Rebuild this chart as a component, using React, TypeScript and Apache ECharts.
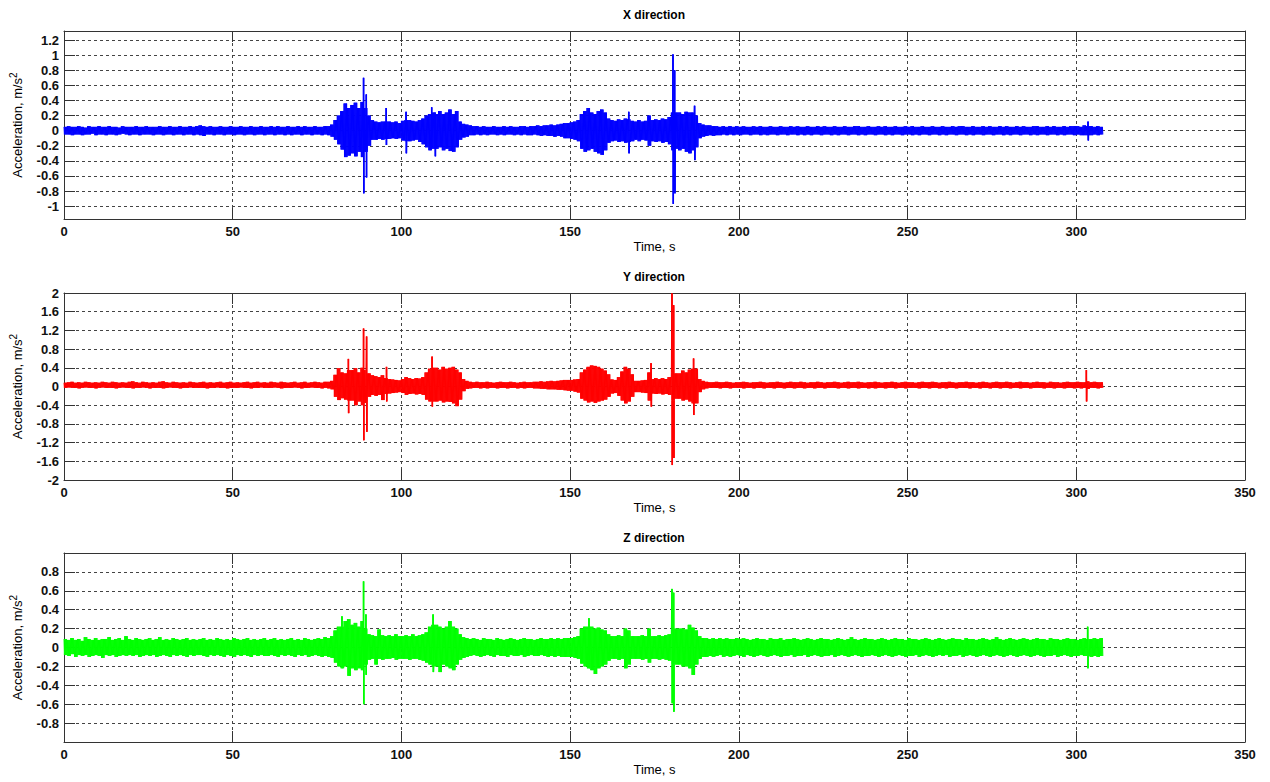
import React, { useEffect, useRef } from "react";
import * as echarts from "echarts";

// ---- DATA ----
// burst envelope of each record, one bin per second, in 0.01 m/s^2,
// plus the isolated narrow spikes (time s, upper and lower peak in m/s^2)
const BIN_SECONDS = 1;
const STROKES_PER_BIN = 4;
const STROKES_PER_SPIKE = 2;
const X_TICKS = [0, 50, 100, 150, 200, 250, 300, 350];
const X_LABELS_FIRST = [0, 50, 100, 150, 200, 250, 300];
const X_LABELS_OTHER = [0, 50, 100, 150, 200, 250, 300, 350];
const Y1_TICKS = [-1, -0.8, -0.6, -0.4, -0.2, 0, 0.2, 0.4, 0.6, 0.8, 1, 1.2];
const Y2_TICKS = [-2, -1.6, -1.2, -0.8, -0.4, 0, 0.4, 0.8, 1.2, 1.6, 2];
const Y3_TICKS = [-0.8, -0.6, -0.4, -0.2, 0, 0.2, 0.4, 0.6, 0.8];
const Y1_RANGE = [-1.17, 1.32];
const Y2_RANGE = [-2, 2];
const Y3_RANGE = [-1, 1];
const PANEL_TITLES = ["X direction", "Y direction", "Z direction"];

const X_UP = [
  5,6,5,5,6,5,4,6,5,5,6,5,5,6,5,5,4,6,5,5,
  5,6,5,5,6,5,5,5,6,5,5,6,5,5,6,5,5,6,5,6,
  7,6,5,6,5,5,6,5,5,6,5,5,6,5,5,6,5,5,6,5,
  5,6,5,6,5,5,6,5,5,6,5,6,5,5,6,5,5,6,6,8,
  14,20,26,36,30,34,37,30,38,30,20,14,12,11,12,12,12,11,12,10,
  13,14,14,13,12,14,16,20,22,24,22,26,22,24,28,22,26,12,9,8,
  7,6,6,5,6,5,5,6,5,5,6,5,6,5,5,6,6,5,6,6,
  7,6,7,7,8,7,8,9,10,10,11,12,14,22,26,30,24,22,26,28,
  24,16,14,13,15,14,16,15,13,12,14,12,13,20,14,15,14,16,15,18,
  24,24,24,22,25,24,24,20,10,8,7,7,6,6,5,6,5,6,5,6,
  5,6,5,5,6,5,6,5,5,6,5,5,6,5,5,6,5,6,5,5,
  6,5,5,6,5,6,5,5,6,5,5,6,5,5,6,6,5,5,6,5,
  5,6,5,6,5,5,6,5,5,6,5,6,5,5,6,5,5,6,5,5,
  6,5,5,6,5,6,6,5,5,6,5,5,6,5,6,5,5,6,5,6,
  5,5,6,5,6,5,5,6,6,5,5,6,5,6,5,5,6,5,6,6,
  6,5,7,6,6,5,6,5,
];
const X_LO = [
  -5,-5,-6,-5,-5,-6,-5,-5,-4,-6,-5,-5,-6,-5,-5,-6,-5,-4,-5,-6,
  -5,-5,-6,-5,-5,-5,-6,-5,-5,-6,-5,-5,-6,-5,-5,-6,-5,-5,-6,-5,
  -6,-7,-5,-5,-6,-5,-5,-6,-5,-5,-6,-5,-5,-6,-5,-5,-6,-5,-5,-6,
  -5,-5,-6,-5,-5,-6,-5,-6,-5,-5,-6,-5,-5,-6,-5,-5,-6,-5,-6,-8,
  -12,-18,-25,-35,-33,-30,-34,-28,-35,-28,-20,-12,-12,-11,-12,-11,-11,-10,-11,-10,
  -13,-14,-14,-13,-12,-15,-18,-22,-26,-24,-24,-22,-26,-24,-27,-28,-22,-12,-9,-8,
  -6,-6,-5,-6,-5,-6,-5,-5,-6,-5,-6,-5,-5,-6,-5,-6,-5,-6,-6,-5,
  -6,-7,-6,-7,-7,-8,-7,-8,-10,-10,-11,-12,-14,-24,-28,-26,-24,-28,-30,-32,
  -26,-16,-14,-13,-15,-14,-16,-15,-14,-12,-14,-12,-13,-20,-14,-15,-14,-16,-15,-18,
  -26,-24,-26,-24,-28,-30,-26,-22,-10,-8,-7,-6,-7,-6,-6,-5,-6,-5,-6,-5,
  -6,-5,-5,-6,-5,-5,-6,-5,-6,-5,-5,-6,-5,-5,-6,-5,-5,-6,-5,-6,
  -5,-6,-5,-5,-6,-5,-5,-6,-5,-6,-5,-5,-6,-5,-5,-6,-5,-6,-5,-5,
  -6,-5,-5,-6,-5,-6,-5,-5,-6,-5,-5,-6,-5,-6,-5,-5,-6,-5,-5,-6,
  -5,-6,-5,-5,-6,-5,-5,-6,-5,-6,-5,-5,-6,-5,-5,-6,-5,-5,-6,-5,
  -6,-5,-5,-6,-5,-5,-6,-5,-6,-5,-5,-6,-5,-5,-6,-5,-6,-5,-5,-6,
  -5,-6,-6,-6,-6,-5,-6,-5,
];
const X_SPIKE_T = [88.7, 89.5, 95.4, 101.3, 108.9, 109.9, 167.3, 180.4, 180.9, 186.8, 303.4];
const X_SPIKE_UP = [0.70, 0.48, 0.30, 0.25, 0.31, 0.24, 0.25, 1.01, 0.80, 0.33, 0.12];
const X_SPIKE_LO = [-0.83, -0.62, -0.19, -0.30, -0.22, -0.34, -0.30, -0.97, -0.83, -0.39, -0.13];

const Y_UP = [
  8,9,10,8,9,8,10,9,8,9,8,10,9,8,10,9,8,9,8,10,
  11,9,8,10,9,8,9,8,10,11,9,8,10,9,8,9,8,10,9,8,
  9,10,8,9,8,9,10,8,9,10,8,9,8,9,10,8,9,10,8,9,
  8,10,9,8,10,9,8,9,10,8,9,10,8,9,10,9,8,10,10,12,
  25,39,30,28,35,35,39,30,40,35,28,24,22,20,24,18,16,15,14,13,
  16,20,18,16,18,17,20,30,38,40,40,36,42,38,40,42,36,30,16,12,
  10,9,10,9,9,10,9,8,9,10,9,9,10,9,8,9,10,9,9,10,
  10,11,10,11,12,11,12,13,14,14,14,15,16,30,36,42,45,44,42,38,
  34,26,15,14,20,32,42,38,26,12,12,13,14,30,16,18,16,18,16,20,
  30,28,28,34,30,36,38,38,16,12,10,9,9,10,9,9,10,9,8,9,
  9,10,9,8,9,9,10,9,8,9,9,10,9,8,9,10,9,9,10,9,
  8,9,9,10,9,8,9,9,10,9,8,9,10,9,9,10,9,8,9,9,
  10,9,8,9,9,10,9,8,9,10,9,9,8,9,10,9,9,10,9,8,
  9,9,10,9,8,9,9,10,9,9,8,9,10,9,8,9,10,9,9,10,
  9,8,9,10,9,9,8,9,10,9,9,8,10,9,9,8,9,10,9,9,
  10,9,9,11,9,10,9,9,
];
const Y_LO = [
  -3,-2,-3,-3,-4,-3,-2,-3,-3,-4,-3,-2,-3,-3,-3,-4,-3,-2,-3,-3,
  -4,-3,-3,-2,-3,-4,-3,-3,-3,-4,-3,-2,-3,-3,-4,-3,-3,-2,-3,-3,
  -3,-3,-4,-3,-3,-2,-3,-3,-4,-3,-3,-3,-2,-3,-3,-4,-3,-3,-2,-3,
  -3,-3,-2,-3,-4,-3,-3,-3,-2,-3,-4,-3,-3,-2,-3,-3,-4,-3,-4,-6,
  -22,-29,-25,-28,-30,-30,-40,-32,-40,-35,-22,-18,-20,-18,-29,-16,-15,-14,-13,-12,
  -14,-18,-16,-15,-17,-16,-18,-28,-32,-32,-32,-30,-34,-32,-33,-36,-42,-28,-10,-5,
  -4,-3,-3,-4,-3,-4,-3,-3,-4,-3,-3,-4,-3,-3,-4,-3,-4,-3,-3,-4,
  -4,-5,-5,-6,-6,-6,-7,-7,-8,-9,-9,-11,-13,-26,-30,-34,-32,-35,-32,-30,
  -28,-22,-15,-14,-20,-30,-36,-32,-22,-12,-12,-13,-14,-30,-15,-16,-15,-17,-16,-18,
  -30,-26,-26,-30,-28,-32,-36,-36,-12,-6,-4,-3,-3,-3,-4,-3,-3,-4,-3,-3,
  -3,-4,-3,-3,-4,-3,-3,-4,-3,-3,-4,-3,-3,-4,-3,-3,-4,-3,-3,-4,
  -3,-3,-4,-3,-3,-4,-3,-3,-3,-4,-3,-3,-4,-3,-3,-4,-3,-3,-4,-3,
  -4,-3,-3,-4,-3,-3,-4,-3,-3,-4,-3,-3,-3,-4,-3,-3,-4,-3,-3,-4,
  -3,-4,-3,-3,-4,-3,-3,-3,-4,-3,-3,-4,-3,-3,-4,-3,-3,-4,-3,-3,
  -4,-3,-3,-4,-3,-3,-4,-3,-3,-3,-4,-3,-3,-4,-3,-3,-4,-3,-3,-4,
  -3,-4,-3,-5,-3,-3,-4,-3,
];
const Y_SPIKE_T = [84.2, 88.7, 89.6, 95.5, 109.0, 173.9, 180.1, 180.6, 186.5, 302.9];
const Y_SPIKE_UP = [0.59, 1.24, 1.07, 0.42, 0.64, 0.50, 1.99, 1.74, 0.60, 0.35];
const Y_SPIKE_LO = [-0.57, -1.15, -0.97, -0.32, -0.43, -0.43, -1.68, -1.53, -0.61, -0.32];

const Z_UP = [
  9,8,10,8,9,7,11,9,8,10,8,9,9,11,8,9,10,8,12,9,
  8,10,9,8,9,10,8,9,11,8,9,8,10,9,8,9,10,8,9,8,
  9,10,8,9,8,10,9,8,9,8,10,9,8,9,10,8,9,8,9,10,
  8,9,10,8,9,8,9,10,8,9,8,10,9,8,9,10,9,11,10,12,
  18,22,22,28,30,24,26,22,28,20,14,13,12,19,13,12,13,12,14,12,
  12,13,12,14,12,13,14,16,22,24,24,22,20,22,28,22,20,14,11,10,
  9,10,9,8,10,9,9,8,10,9,8,9,10,9,8,9,10,9,9,8,
  9,10,9,9,10,9,10,9,10,10,10,11,12,20,22,22,22,20,21,19,
  18,14,12,12,13,12,20,18,12,12,12,13,12,20,12,12,13,12,13,14,
  20,20,20,20,19,24,21,18,12,10,10,9,10,9,10,9,10,9,9,10,
  9,10,9,8,9,10,9,9,8,10,9,9,10,8,9,9,10,9,8,9,
  10,9,8,9,10,9,9,8,9,10,9,8,9,11,9,8,9,10,9,9,
  8,9,10,9,8,9,10,9,9,8,10,9,9,8,9,10,9,8,9,10,
  9,8,9,10,9,9,8,10,9,9,8,9,10,9,8,9,11,9,8,9,
  10,9,8,9,10,9,8,9,10,9,9,8,10,9,9,8,9,10,9,9,
  8,9,10,9,9,10,9,10,
];
const Z_LO = [
  -8,-9,-7,-10,-8,-9,-8,-10,-9,-8,-9,-11,-8,-9,-8,-10,-9,-8,-9,-8,
  -9,-8,-10,-9,-8,-9,-8,-10,-9,-8,-9,-10,-8,-9,-8,-9,-10,-8,-9,-8,
  -8,-9,-10,-8,-9,-8,-9,-10,-8,-9,-10,-8,-9,-8,-9,-10,-8,-9,-8,-9,
  -9,-8,-9,-10,-8,-9,-8,-9,-10,-8,-9,-8,-10,-9,-8,-9,-10,-9,-10,-11,
  -16,-20,-22,-20,-30,-22,-24,-22,-24,-18,-13,-12,-18,-12,-13,-12,-12,-11,-13,-12,
  -12,-12,-13,-12,-12,-13,-14,-16,-18,-20,-20,-26,-18,-20,-22,-24,-18,-13,-11,-10,
  -9,-8,-9,-10,-9,-8,-9,-10,-8,-9,-9,-10,-8,-9,-9,-8,-10,-9,-8,-9,
  -9,-8,-9,-10,-9,-10,-9,-10,-10,-10,-10,-11,-12,-17,-20,-22,-24,-28,-22,-20,
  -18,-14,-12,-12,-13,-12,-22,-18,-12,-12,-12,-13,-12,-16,-12,-12,-13,-12,-13,-14,
  -18,-18,-18,-20,-20,-22,-29,-18,-12,-10,-10,-9,-10,-9,-8,-10,-9,-10,-9,-8,
  -9,-10,-8,-9,-10,-9,-8,-9,-10,-9,-8,-9,-10,-9,-9,-8,-10,-9,-9,-8,
  -10,-9,-8,-9,-10,-9,-9,-8,-10,-9,-8,-9,-10,-9,-8,-9,-10,-9,-9,-8,
  -9,-10,-9,-8,-9,-10,-9,-8,-9,-10,-9,-9,-8,-10,-9,-8,-9,-10,-9,-8,
  -9,-8,-10,-9,-9,-8,-10,-9,-8,-9,-10,-9,-8,-9,-10,-9,-8,-9,-10,-9,
  -8,-9,-10,-9,-8,-9,-10,-9,-8,-9,-10,-9,-9,-8,-10,-9,-8,-9,-10,-9,
  -9,-8,-9,-9,-10,-9,-10,-9,
];
const Z_SPIKE_T = [82.3, 88.7, 89.4, 109.3, 155.5, 180.1, 180.6, 303.3];
const Z_SPIKE_UP = [0.33, 0.70, 0.35, 0.35, 0.31, 0.62, 0.58, 0.22];
const Z_SPIKE_LO = [-0.22, -0.60, -0.29, -0.26, -0.22, -0.59, -0.68, -0.22];

// each bin: a few strokes swinging between its read upper and lower peaks; spikes: two narrow strokes
function buildTrace(up: number[], lo: number[], st: number[], su: number[], sl: number[]): number[][] {
  const out: number[][] = [];
  const step = BIN_SECONDS / (2 * STROKES_PER_BIN);
  for (let i = 0; i < up.length; i++) {
    for (let s = 0; s < STROKES_PER_BIN; s++) {
      out.push([i * BIN_SECONDS + 2 * s * step, up[i] / 100]);
      out.push([i * BIN_SECONDS + (2 * s + 1) * step, lo[i] / 100]);
    }
  }
  for (let j = 0; j < st.length; j++) {
    for (let s = 0; s < STROKES_PER_SPIKE; s++) {
      out.push([st[j] + s * 0.16, su[j]]);
      out.push([st[j] + s * 0.16 + 0.08, sl[j]]);
    }
  }
  out.sort((a, b) => a[0] - b[0]);
  return out;
}

const FONT = "'Liberation Sans', Arial, sans-serif";

export default function App() {
  const ref = useRef<HTMLDivElement>(null);

  useEffect(() => {
    if (!ref.current) return;
    const chart = echarts.init(ref.current, undefined, { renderer: "svg" });

    const panels = [
      { top: 31, height: 188, ticks: Y1_TICKS, range: Y1_RANGE, xLabels: X_LABELS_FIRST, color: "#0000ff", data: buildTrace(X_UP, X_LO, X_SPIKE_T, X_SPIKE_UP, X_SPIKE_LO), titleY: 15 },
      { top: 293, height: 187, ticks: Y2_TICKS, range: Y2_RANGE, xLabels: X_LABELS_OTHER, color: "#ff0000", data: buildTrace(Y_UP, Y_LO, Y_SPIKE_T, Y_SPIKE_UP, Y_SPIKE_LO), titleY: 277 },
      { top: 553, height: 189, ticks: Y3_TICKS, range: Y3_RANGE, xLabels: X_LABELS_OTHER, color: "#00ff00", data: buildTrace(Z_UP, Z_LO, Z_SPIKE_T, Z_SPIKE_UP, Z_SPIKE_LO), titleY: 538 },
    ];

    const frame = { show: true, onZero: false, lineStyle: { color: "#333", width: 1 } };
    const tick = { show: true, inside: true, length: 11, lineStyle: { color: "#333", width: 1 } };
    const grid = { show: true, lineStyle: { color: "#444", width: 1, type: [3, 3] as any } };
    const label = { fontFamily: FONT, fontSize: 13, fontWeight: "bold" as const, color: "#111" };

    const grids: any[] = [];
    const xAxes: any[] = [];
    const yAxes: any[] = [];
    const series: any[] = [];
    const graphics: any[] = [];

    panels.forEach((p, k) => {
      grids.push({ left: 64, width: 1181, top: p.top, height: p.height, containLabel: false });
      xAxes.push({
        type: "value", gridIndex: k, position: "bottom", min: X_TICKS[0], max: X_TICKS[X_TICKS.length - 1], interval: 50,
        axisLine: frame, axisTick: tick,
        axisLabel: { ...label, margin: 6, customValues: p.xLabels },
        splitLine: grid,
        name: "Time, s", nameLocation: "middle", nameGap: 21,
        nameTextStyle: { fontFamily: FONT, fontSize: 13, color: "#000" },
      });
      xAxes.push({
        type: "value", gridIndex: k, position: "top", min: X_TICKS[0], max: X_TICKS[X_TICKS.length - 1], interval: 50,
        axisLine: frame, axisTick: tick, axisLabel: { show: false }, splitLine: { show: false },
      });
      yAxes.push({
        type: "value", gridIndex: k, position: "left", min: p.range[0], max: p.range[1],
        axisLine: frame, axisTick: { ...tick, customValues: p.ticks },
        axisLabel: { ...label, margin: 5, customValues: p.ticks },
        splitLine: grid,
        name: "Acceleration, m/s{sup|2}", nameLocation: "middle", nameGap: 38,
        nameTextStyle: {
          fontFamily: FONT, fontSize: 13, color: "#000",
          rich: { sup: { fontFamily: FONT, fontSize: 10, color: "#000", padding: [0, 0, 8, 0] } },
        },
      });
      yAxes.push({
        type: "value", gridIndex: k, position: "right", min: p.range[0], max: p.range[1],
        axisLine: frame, axisTick: { ...tick, customValues: p.ticks },
        axisLabel: { show: false }, splitLine: { show: false },
      });
      series.push({
        type: "line", xAxisIndex: 2 * k, yAxisIndex: 2 * k, data: p.data,
        symbol: "none", showSymbol: false, silent: true, z: 3,
        lineStyle: { color: p.color, width: 1 }, itemStyle: { color: p.color },
      });
      graphics.push({
        type: "text", x: 654, y: p.titleY,
        style: { text: PANEL_TITLES[k], fontFamily: FONT, fontSize: 12, fontWeight: "bold", fill: "#000", textAlign: "center", textVerticalAlign: "middle" },
      });
    });

    chart.setOption({
      animation: false,
      backgroundColor: "#ffffff",
      grid: grids,
      xAxis: xAxes,
      yAxis: yAxes,
      series,
      graphic: graphics,
    });

    return () => chart.dispose();
  }, []);

  return <div ref={ref} style={{ position: "fixed", left: 0, top: 0, width: 1270, height: 782 }} />;
}
